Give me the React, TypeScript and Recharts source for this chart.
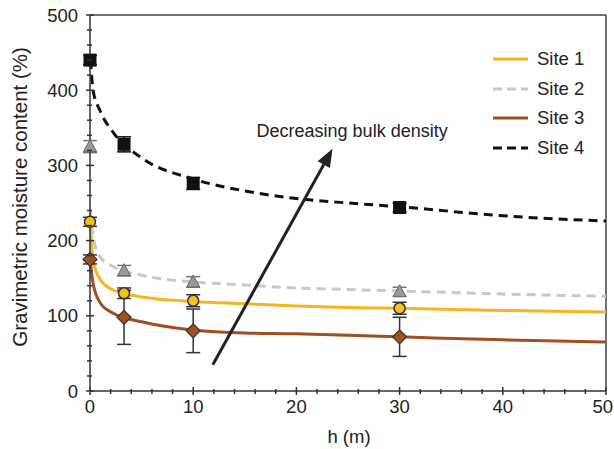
import { ComposedChart, Line, Scatter, XAxis, YAxis, ErrorBar, ReferenceLine, ReferenceDot } from 'recharts';

// fitted curves
const curveX = [0.05, 0.3, 1, 2.3, 5, 10, 15, 20, 25, 30, 40, 50];
const site1Curve = [222, 174, 148, 134, 125, 119, 116, 113, 111, 110, 107, 105];
const site2Curve = [240, 205, 178, 165, 154, 145, 141, 137, 135, 133, 129, 126];
const site3Curve = [170, 143, 117, 103, 92, 81, 77, 76, 74, 72, 68, 65];
const site4Curve = [440, 400, 372, 343, 310, 282, 266, 256, 250, 245, 233, 226];

// measured points with error bars
const pointX = [0, 3.3, 10, 30];
const site1Pts = [225, 130, 120, 110];
const site1Err = [6, 7, 8, 8];
const site2Pts = [325, 160, 145, 132];
const site2Err = [8, 7, 7, 6];
const site3Pts = [175, 98, 80, 72];
const site3Err = [6, 36, 29, 26];
const site4Pts = [440, 328, 276, 244];
const site4Err = [6, 10, 8, 6];

const xTicks = [0, 2, 4, 6, 8, 10, 12, 14, 16, 18, 20, 22, 24, 26, 28, 30, 32, 34, 36, 38, 40, 42, 44, 46, 48, 50];
const yTicks = [0, 20, 40, 60, 80, 100, 120, 140, 160, 180, 200, 220, 240, 260, 280, 300, 320, 340, 360, 380, 400, 420, 440, 460, 480, 500];

const seriesNames = ['Site 1', 'Site 2', 'Site 3', 'Site 4'];

const curve = (ys: number[]) => curveX.map((x, i) => ({ x, y: ys[i] }));
const points = (ys: number[], errs: number[]) => pointX.map((x, i) => ({ x, y: ys[i], err: errs[i] }));

const FONT = '"Liberation Sans", Arial, Helvetica, sans-serif';
const AXIS = '#333';

const lineStyles = [
  { stroke: '#F6B51E', dash: undefined },
  { stroke: '#C8C8C8', dash: '9 6' },
  { stroke: '#A04E22', dash: undefined },
  { stroke: '#111', dash: '9 6' },
];

const XTick = (props: any) => {
  const { x, y, payload } = props;
  const major = payload.value % 10 === 0;
  const last = payload.value === 50;
  return (
    <g>
      <line x1={x} x2={x} y1={major ? y - 4 : y - 2} y2={major ? y + 4 : y + 3} stroke={AXIS} strokeWidth={1.5} />
      {major && (
        <text x={last ? x + 7 : x} y={y + 22} textAnchor={last ? 'end' : 'middle'} fontSize={18.5} fontFamily={FONT} fill="#222">
          {payload.value}
        </text>
      )}
    </g>
  );
};

const YTick = (props: any) => {
  const { x, y, payload } = props;
  const major = payload.value % 100 === 0;
  return (
    <g>
      <line x1={major ? x - 4 : x - 3} x2={major ? x + 4 : x + 2} y1={y} y2={y} stroke={AXIS} strokeWidth={1.5} />
      {major && (
        <text x={x - 12} y={y + 6.5} textAnchor="end" fontSize={18.5} fontFamily={FONT} fill="#222">
          {payload.value}
        </text>
      )}
    </g>
  );
};

const Circle = (p: any) => <circle cx={p.cx} cy={p.cy} r={5.5} fill="#F5C11B" stroke="#333" strokeWidth={1.5} />;
const Triangle = (p: any) => (
  <polygon points={`${p.cx},${p.cy - 7} ${p.cx - 6.5},${p.cy + 5} ${p.cx + 6.5},${p.cy + 5}`} fill="#999" stroke="#666" strokeWidth={1} />
);
const Diamond = (p: any) => (
  <polygon points={`${p.cx},${p.cy - 7} ${p.cx + 7},${p.cy} ${p.cx},${p.cy + 7} ${p.cx - 7},${p.cy}`} fill="#A0501F" stroke="#333" strokeWidth={1.2} />
);
const Square = (p: any) => <rect x={p.cx - 6.5} y={p.cy - 6.5} width={13} height={13} fill="#111" />;

const Arrow = (p: any) => {
  const { x1, y1, x2, y2 } = p;
  const ang = Math.atan2(y2 - y1, x2 - x1);
  const len = 18;
  const half = 7;
  const bx = x2 - len * Math.cos(ang);
  const by = y2 - len * Math.sin(ang);
  const nx = -Math.sin(ang) * half;
  const ny = Math.cos(ang) * half;
  return (
    <g>
      <line x1={x1} y1={y1} x2={bx} y2={by} stroke="#222" strokeWidth={3} />
      <polygon points={`${x2},${y2} ${bx + nx},${by + ny} ${bx - nx},${by - ny}`} fill="#222" />
    </g>
  );
};

export default function App() {
  return (
    <div style={{ position: 'absolute', left: 0, top: 0, width: 614, height: 449, background: '#fff' }}>
      <ComposedChart width={614} height={449} margin={{ top: 15, right: 8, left: 0, bottom: 0 }}>
        <XAxis
          dataKey="x"
          type="number"
          domain={[0, 50]}
          ticks={xTicks}
          interval={0}
          tick={<XTick />}
          tickLine={false}
          tickSize={0}
          tickMargin={0}
          height={58}
          axisLine={{ stroke: AXIS, strokeWidth: 1.5 }}
          allowDuplicatedCategory={false}
          label={{
            content: () => (
              <text x={349} y={443} textAnchor="middle" fontSize={18.5} fontFamily={FONT} fill="#222">
                h (m)
              </text>
            ),
          }}
        />
        <YAxis
          type="number"
          domain={[0, 500]}
          ticks={yTicks}
          interval={0}
          tick={<YTick />}
          tickLine={false}
          tickSize={0}
          tickMargin={0}
          width={90}
          axisLine={{ stroke: AXIS, strokeWidth: 1.5 }}
          label={{
            content: () => (
              <text x={27} y={197} transform="rotate(-90 27 197)" textAnchor="middle" fontSize={20.5} fontFamily={FONT} fill="#222">
                Gravimetric moisture content (%)
              </text>
            ),
          }}
        />
        <ReferenceLine y={500} stroke="#444" strokeWidth={1.5} />
        <ReferenceLine x={50} stroke="#444" strokeWidth={1.5} />

        {[site1Curve, site2Curve, site3Curve, site4Curve].map((ys, i) => (
          <Line
            key={seriesNames[i]}
            data={curve(ys)}
            dataKey="y"
            type="monotone"
            stroke={lineStyles[i].stroke}
            strokeDasharray={lineStyles[i].dash}
            strokeWidth={3}
            dot={false}
            activeDot={false}
            isAnimationActive={false}
          />
        ))}

        <Scatter data={points(site3Pts, site3Err)} dataKey="y" shape={<Diamond />} isAnimationActive={false}>
          <ErrorBar dataKey="err" direction="y" width={7} stroke={AXIS} strokeWidth={1.5} />
        </Scatter>
        <Scatter data={points(site1Pts, site1Err)} dataKey="y" shape={<Circle />} isAnimationActive={false}>
          <ErrorBar dataKey="err" direction="y" width={7} stroke={AXIS} strokeWidth={1.5} />
        </Scatter>
        <Scatter data={points(site2Pts, site2Err)} dataKey="y" shape={<Triangle />} isAnimationActive={false}>
          <ErrorBar dataKey="err" direction="y" width={7} stroke="#777" strokeWidth={1.5} />
        </Scatter>
        <Scatter data={points(site4Pts, site4Err)} dataKey="y" shape={<Square />} isAnimationActive={false}>
          <ErrorBar dataKey="err" direction="y" width={7} stroke="#111" strokeWidth={1.5} />
        </Scatter>

        <ReferenceLine
          segment={[{ x: 11.9, y: 35 }, { x: 23.5, y: 322 }]}
          shape={<Arrow />}
        />
        <ReferenceDot
          x={25.4}
          y={346}
          r={1}
          fill="none"
          stroke="none"
          label={{ value: 'Decreasing bulk density', position: 'center', fontSize: 18, fontFamily: FONT, fill: '#222' }}
        />
      </ComposedChart>

      <div style={{ position: 'absolute', left: 490, top: 44, fontFamily: FONT, fontSize: 18.5, color: '#222' }}>
        {seriesNames.map((name, i) => (
          <div key={name} style={{ display: 'flex', alignItems: 'center', height: 29.7 }}>
            <svg width={42} height={10}>
              <line x1={3} x2={38} y1={5} y2={5} stroke={lineStyles[i].stroke} strokeWidth={3} strokeDasharray={lineStyles[i].dash ? '9 5' : undefined} />
            </svg>
            <span style={{ marginLeft: 5 }}>{name}</span>
          </div>
        ))}
      </div>
    </div>
  );
}
